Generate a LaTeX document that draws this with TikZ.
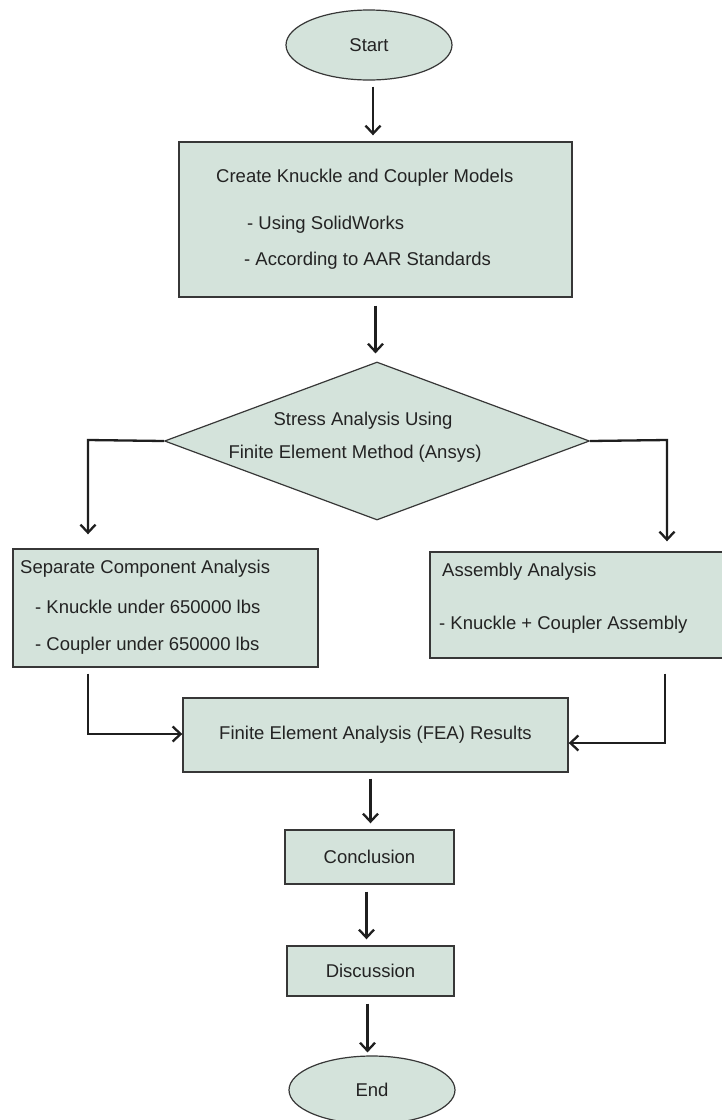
\documentclass[tikz,border=0pt]{standalone}
\usepackage{fontspec}
\setmainfont{Liberation Sans}
\usepackage{tikz}
\usetikzlibrary{shapes.geometric,arrows.meta}

\definecolor{boxfill}{RGB}{212,227,219}
\definecolor{inktext}{RGB}{35,35,35}
\definecolor{edge}{RGB}{55,55,55}

\begin{document}
\begin{tikzpicture}[x=1pt,y=-1pt,
    every node/.style={font=\fontsize{18.5}{22}\selectfont,text=inktext},
    block/.style={draw=edge,line width=1.4pt,fill=boxfill,rectangle,inner sep=0pt},
    term/.style={draw=edge,line width=1.2pt,fill=boxfill,ellipse,inner sep=0pt},
    line/.style={anchor=west,inner sep=0pt},
    flow/.style={line width=2.3pt,draw=black!88,-{Straight Barb[length=8pt,width=15pt]}}]
    \useasboundingbox[fill=white] (0,0) rectangle (722,1120);

    % start and model creation
    \node[term,minimum width=166pt,minimum height=70pt] (start) at (369,45) {Start};
    \node[block,minimum width=393pt,minimum height=155pt] (create) at (375.5,219.5) {};
    \node[line] (createtitle) at (216,178) {Create Knuckle and Coupler Models};
    \node[line] (usingsw) at (247,225) {- Using SolidWorks};
    \node[line] (usingaar) at (244,261) {- According to AAR Standards};

    % decision
    \node[draw=edge,line width=1.2pt,fill=boxfill,diamond,inner sep=0pt,
          minimum width=425pt,minimum height=158pt] (stress) at (377,441) {};
    \node (stressa) at (363,421) {Stress Analysis Using};
    \node (stressb) at (355,454) {Finite Element Method (Ansys)};

    % the two analyses
    \node[block,minimum width=305pt,minimum height=118pt] (sep) at (165.5,608) {};
    \node[line] (septitle) at (20,569) {Separate Component Analysis};
    \node[line] (sepknuckle) at (35,607) {- Knuckle under 650000 lbs};
    \node[line] (sepcoupler) at (35,646) {- Coupler under 650000 lbs};
    \node[block,minimum width=294pt,minimum height=106pt] (asm) at (577,605) {};
    \node[line] (asmtitle) at (442,572) {Assembly Analysis};
    \node[line] (asmpair) at (439,625) {- Knuckle + Coupler Assembly};

    % results and end
    \node[block,minimum width=385pt,minimum height=74pt] (fea) at (375.5,735) {Finite Element Analysis (FEA) Results};
    \node[block,minimum width=169pt,minimum height=54pt] (concl) at (369.5,857) {Conclusion};
    \node[block,minimum width=167pt,minimum height=50pt] (disc) at (370.5,971) {Discussion};
    \node[term,minimum width=166pt,minimum height=68pt] (end) at (372,1090) {End};

    \coordinate (lturn) at (88,440);
    \coordinate (rturn) at (667,440);
    \coordinate (ljoin) at (88,734);
    \coordinate (rjoin) at (665,743);

    \draw[flow,shorten <=6pt,shorten >=6pt] ([xshift=4pt]start.south) -- ([xshift=4pt]start.south |- create.north);
    \draw[flow,shorten <=8pt,shorten >=8pt] (create.south) -- (create.south |- stress.north);
    \draw[flow,shorten >=14pt] (stress.west) -- (lturn) -- (lturn |- sep.north);
    \draw[flow,shorten >=10pt] (stress.east) -- (rturn) -- (rturn |- asm.north);
    \draw[flow] ([yshift=-6pt]lturn |- sep.south) -- (ljoin) -- (ljoin -| fea.west);
    \draw[flow] ([yshift=-15pt]rjoin |- asm.south) -- (rjoin) -- (rjoin -| fea.east);
    \draw[flow,shorten <=6pt,shorten >=6pt] ([xshift=-5pt]fea.south) -- ([xshift=-5pt]fea.south |- concl.north);
    \draw[flow,shorten <=7pt,shorten >=6pt] ([xshift=-3pt]concl.south) -- ([xshift=-3pt]concl.south |- disc.north);
    \draw[flow,shorten <=7pt,shorten >=3pt] ([xshift=-3pt]disc.south) -- ([xshift=-3pt]disc.south |- end.north);
\end{tikzpicture}
\end{document}
